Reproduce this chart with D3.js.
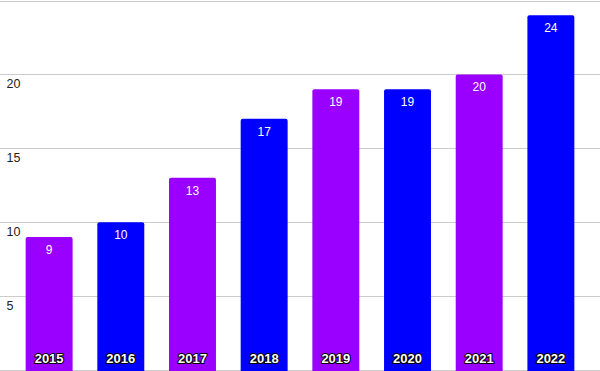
<!DOCTYPE html>
<html lang="en">
	<head>
		<meta charset="utf-8">
		<title>Bars by year</title>
		<script src="https://d3js.org/d3.v7.min.js"></script>
		<style>
			body { margin: 0; background: #fff; }
			text { font-family: Arial, "Liberation Sans", sans-serif; }
			.grid line { stroke: #cccccc; stroke-width: 1; }
			.ylab { fill: #222222; font-size: 12.5px; }
			.val { fill: #ffffff; font-size: 12px; }
			.year { fill: #ffffff; stroke: #000000; stroke-width: 2px; paint-order: stroke; stroke-linejoin: round; font-size: 13px; font-weight: bold; }
		</style>
	</head>
	<body>
		<div id="chart"></div>
		<script type="text/javascript">
			var years = ["2015","2016","2017","2018","2019","2020","2021","2022"];
			var values = [9, 10, 13, 17, 19, 19, 20, 24];
			var colors = ["#9900ff", "#0000ff"];
			var yTicks = [5, 10, 15, 20];
			var gridTicks = [0, 5, 10, 15, 20, 25];

			var w = 600;
			var h = 371;

			var svg = d3.select("#chart").append("svg").attr("width", w).attr("height", h);

			var xScale = d3.scaleBand().domain(years).range([2, 598]).paddingInner(0.345).paddingOuter(0.33);
			var yScale = d3.scaleLinear().domain([0, 25]).range([370, 0.5]);

			// gridlines
			svg.append("g").attr("class", "grid").selectAll("line").data(gridTicks).enter().append("line")
				.attr("x1", 0).attr("x2", w)
				.attr("y1", function(d) { return Math.round(yScale(d)) + 0.5; })
				.attr("y2", function(d) { return Math.round(yScale(d)) + 0.5; });

			// y labels
			svg.selectAll(".ylab").data(yTicks).enter().append("text").attr("class", "ylab")
				.attr("x", 6.5)
				.attr("y", function(d) { return yScale(d) + 13.5; })
				.text(function(d) { return d; });

			// bars with rounded top corners
			svg.selectAll(".bar").data(values).enter().append("path").attr("class", "bar")
				.attr("fill", function(d, i) { return colors[i % 2]; })
				.attr("d", function(d, i) {
					var x0 = xScale(years[i]), x1 = x0 + xScale.bandwidth();
					var y0 = yScale(d), yb = h + 2, r = 2;
					return "M" + x0 + "," + yb + "V" + (y0 + r) + "Q" + x0 + "," + y0 + " " + (x0 + r) + "," + y0 +
						"H" + (x1 - r) + "Q" + x1 + "," + y0 + " " + x1 + "," + (y0 + r) + "V" + yb + "Z";
				});

			// value labels
			svg.selectAll(".val").data(values).enter().append("text").attr("class", "val")
				.attr("text-anchor", "middle")
				.attr("x", function(d, i) { return xScale(years[i]) + xScale.bandwidth() / 2; })
				.attr("y", function(d) { return yScale(d) + 17; })
				.text(function(d) { return d; });

			// year labels
			svg.selectAll(".year").data(years).enter().append("text").attr("class", "year")
				.attr("text-anchor", "middle")
				.attr("x", function(d) { return xScale(d) + xScale.bandwidth() / 2; })
				.attr("y", 363)
				.text(function(d) { return d; });
		</script>
	</body>
</html>
